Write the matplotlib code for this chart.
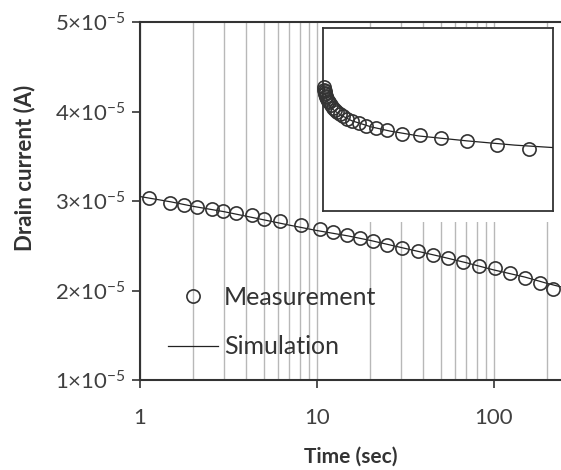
import matplotlib
matplotlib.use("Agg")
import matplotlib.pyplot as plt
from matplotlib.patches import Rectangle
from matplotlib.ticker import FixedLocator, NullFormatter

plt.rcParams['font.family'] = ['Lato', 'DejaVu Sans']
plt.rcParams['mathtext.fontset'] = 'custom'
plt.rcParams['mathtext.rm'] = 'Lato'
plt.rcParams['mathtext.it'] = 'Lato:italic'

# measurement (time in s, drain current in 1e-5 A)
t_meas = [1.12, 1.48, 1.77, 2.10, 2.55, 2.94, 3.49, 4.29, 5.02, 6.18, 8.12, 10.4,
          12.3, 14.8, 17.5, 20.7, 24.8, 30.2, 37.2, 45.2, 55.0, 66.8, 82.3, 101,
          123, 150, 182, 215]
i_meas = [3.03, 2.98, 2.96, 2.93, 2.91, 2.89, 2.87, 2.84, 2.80, 2.78, 2.73, 2.69,
          2.65, 2.62, 2.59, 2.55, 2.51, 2.47, 2.44, 2.40, 2.36, 2.32, 2.27, 2.25,
          2.20, 2.14, 2.08, 2.02]

# simulation curve
t_sim = [1, 1.5, 2, 3, 5, 7, 10, 15, 20, 30, 50, 70, 100, 150, 200, 240]
i_sim = [3.05, 2.99, 2.94, 2.88, 2.79, 2.73, 2.67, 2.61, 2.56, 2.48, 2.38, 2.31,
         2.23, 2.15, 2.08, 2.04]

yticks = [1e-5, 2e-5, 3e-5, 4e-5, 5e-5]
ylabels = [r'$1{\times}10^{-5}$', r'$2{\times}10^{-5}$', r'$3{\times}10^{-5}$',
           r'$4{\times}10^{-5}$', r'$5{\times}10^{-5}$']

i_meas_a = [v * 1e-5 for v in i_meas]
i_sim_a = [v * 1e-5 for v in i_sim]

W, H = 561, 470
fig = plt.figure(figsize=(W / 100, H / 100), dpi=100)
ax = fig.add_axes([140 / W, 1 - 380 / H, 421 / W, 358 / H])

dark = '#333333'
ax.set_xscale('log')
ax.set_xlim(1, 240)
ax.set_ylim(1e-5, 5e-5)
ax.set_yticks(yticks)
ax.set_yticklabels(ylabels)
ax.set_xticks([1, 10, 100])
ax.set_xticklabels(['1', '10', '100'])
ax.xaxis.set_minor_locator(FixedLocator([2, 3, 4, 5, 6, 7, 8, 9, 20, 30, 40, 50,
                                         60, 70, 80, 90, 200]))
ax.xaxis.set_minor_formatter(NullFormatter())
ax.tick_params(which='minor', length=0)
ax.tick_params(which='major', direction='out', length=6, width=1.2, colors=dark,
               labelsize=16, labelcolor='#404040')
ax.tick_params(axis='x', pad=14)
ax.tick_params(axis='y', pad=4)
ax.grid(True, which='both', axis='x', color='#b8b8b8', linewidth=1.0)
ax.spines['right'].set_visible(False)
for s in ['left', 'bottom', 'top']:
    ax.spines[s].set_color(dark)
    ax.spines[s].set_linewidth(1.5)

ax.set_xlabel('Time (sec)', fontsize=15, fontweight='bold', color=dark)
ax.xaxis.set_label_coords(0.5, -(447 - 380) / 358)
ax.set_ylabel('Drain current (A)', fontsize=16, fontweight='bold', color=dark)
ax.yaxis.set_label_coords((35 - 140) / 421, (380 - 168) / 358)

# white patch hiding the grid behind the inset
ax.add_patch(Rectangle((320 / W, 1 - 222 / H), 1 - 320 / W, (222 - 27) / H,
                       transform=fig.transFigure, facecolor='white',
                       edgecolor='none', zorder=1.8))

ax.plot(t_sim, i_sim_a, color='#222222', linewidth=0.9, zorder=3, label='Simulation')
ax.plot(t_meas, i_meas_a, linestyle='none', marker='o', markersize=9.5,
        markerfacecolor='none', markeredgecolor=dark, markeredgewidth=1.2,
        zorder=4, label='Measurement')

h, l = ax.get_legend_handles_labels()
leg = ax.legend([h[1], h[0]], [l[1], l[0]], loc='upper left',
                bbox_to_anchor=(168 / W, 1 - 286 / H), bbox_transform=fig.transFigure,
                frameon=False, fontsize=18, handlelength=2.0, handletextpad=0.25,
                labelspacing=1.05, borderpad=0, borderaxespad=0, numpoints=1)
for txt in leg.get_texts():
    txt.set_color(dark)

# inset: same data on a linear time axis
axi = fig.add_axes([323 / W, 1 - 211 / H, 230 / W, 183 / H])
axi.set_xlim(0, 240)
axi.set_ylim(1e-5, 4e-5)
axi.set_xticks([])
axi.set_yticks([])
for s in axi.spines.values():
    s.set_color(dark)
    s.set_linewidth(1.3)
axi.plot(t_sim, i_sim_a, color='#222222', linewidth=0.9, zorder=3)
axi.plot(t_meas, i_meas_a, linestyle='none', marker='o', markersize=9.5,
         markerfacecolor='none', markeredgecolor=dark, markeredgewidth=1.2,
         zorder=4, clip_on=False)

fig.savefig('out.png', dpi=100)
